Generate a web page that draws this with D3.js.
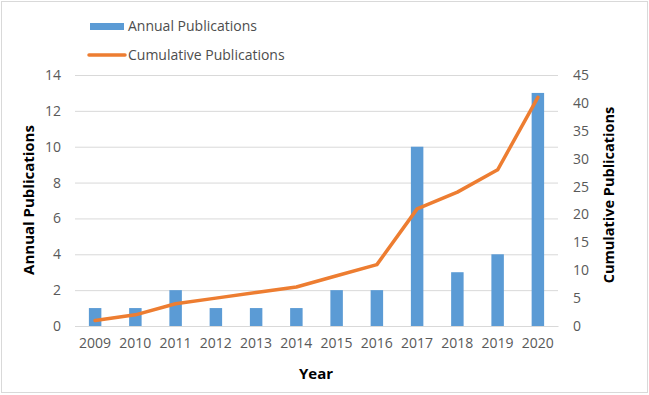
<!DOCTYPE html>
<html><head><meta charset="utf-8">
<script src="https://cdn.jsdelivr.net/npm/d3@7"></script>
<style>body{margin:0;background:#fff}svg{display:block}text{font-family:"Open Sans",sans-serif}</style>
</head><body><svg id="c" width="649" height="395"></svg>
<script>
const years = ["2009","2010","2011","2012","2013","2014","2015","2016","2017","2018","2019","2020"];
const annual = [1,1,2,1,1,1,2,2,10,3,4,13];
const cumulative = [1,2,4,5,6,7,9,11,21,24,28,41];
const leftTicks = [0,2,4,6,8,10,12,14];
const rightTicks = [0,5,10,15,20,25,30,35,40,45];

const svg = d3.select("#c");
const m = {l:75, r:91, t:75, b:69};
const W = 649, H = 395;
svg.append("rect").attr("x",1.5).attr("y",1.5).attr("width",W-3).attr("height",H-4)
  .attr("fill","#fff").attr("stroke","#d9d9d9");

const x = d3.scaleBand().domain(years).range([m.l, W-m.r]).paddingInner(0.69).paddingOuter(0.345);
const yL = d3.scaleLinear().domain([0,14]).range([H-m.b, m.t]);
const yR = d3.scaleLinear().domain([0,45]).range([H-m.b, m.t]);

const gl = svg.append("g").attr("transform",`translate(${m.l},0)`)
  .call(d3.axisLeft(yL).tickValues(leftTicks).tickSize(-(W-m.r-m.l)).tickPadding(14));
gl.select(".domain").remove();
gl.selectAll(".tick line").attr("stroke","#d9d9d9").attr("stroke-width",1);
gl.selectAll(".tick text").attr("fill","#595959").style("font-size","14px");

const gr = svg.append("g").attr("transform",`translate(${W-m.r},0)`)
  .call(d3.axisRight(yR).tickValues(rightTicks).tickSize(0).tickPadding(15));
gr.select(".domain").remove();
gr.selectAll(".tick text").attr("fill","#595959").style("font-size","14px");

const gx = svg.append("g").attr("transform",`translate(0,${H-m.b})`)
  .call(d3.axisBottom(x).tickSize(0).tickPadding(12));
gx.select(".domain").attr("stroke","#d9d9d9");
gx.selectAll(".tick text").attr("fill","#595959").style("font-size","14px");

svg.append("g").selectAll("rect").data(years).join("rect")
  .attr("x",d=>x(d)).attr("width",x.bandwidth())
  .attr("y",(d,i)=>yL(annual[i])).attr("height",(d,i)=>yL(0)-yL(annual[i]))
  .attr("fill","#5B9BD5");

const line = d3.line().x((d,i)=>x(years[i])+x.bandwidth()/2).y(d=>yR(d));
svg.append("path").datum(cumulative).attr("d",line).attr("fill","none")
  .attr("stroke","#ED7D31").attr("stroke-width",3.5).attr("stroke-linejoin","round").attr("stroke-linecap","round");

// axis titles
svg.append("text").attr("transform",`translate(34,200) rotate(-90)`)
  .attr("text-anchor","middle").style("font-size","15px").style("font-weight","bold").text("Annual Publications");
svg.append("text").attr("transform",`translate(614,195) rotate(-90)`)
  .attr("text-anchor","middle").style("font-size","14.5px").style("font-weight","bold").text("Cumulative Publications");
svg.append("text").attr("x",316).attr("y",379).attr("text-anchor","middle")
  .style("font-size","15px").style("font-weight","bold").text("Year");

// legend
const lg = svg.append("g");
lg.append("rect").attr("x",90).attr("y",23).attr("width",34).attr("height",7).attr("fill","#5B9BD5");
lg.append("text").attr("x",128).attr("y",31).attr("fill","#4d4d4d").style("font-size","14px").text("Annual Publications");
lg.append("line").attr("x1",89).attr("x2",125).attr("y1",55).attr("y2",55).attr("stroke","#ED7D31").attr("stroke-width",3.5).attr("stroke-linecap","round");
lg.append("text").attr("x",128).attr("y",60).attr("fill","#4d4d4d").style("font-size","14px").text("Cumulative Publications");
</script></body></html>
